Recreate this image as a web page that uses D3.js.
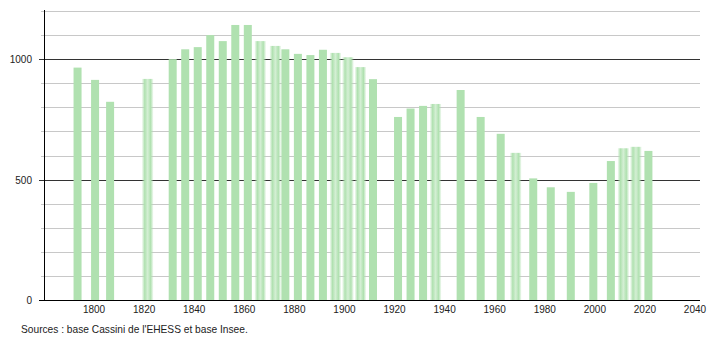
<!DOCTYPE html>
<html>
<head>
<meta charset="utf-8">
<script src="https://d3js.org/d3.v7.min.js"></script>
<style>
  body { margin: 0; background: #fff; }
  text { font-family: "Liberation Sans", Arial, sans-serif; font-size: 10.2px; fill: #222; }
</style>
</head>
<body>
<div id="chart"></div>
<script>
// census years and population
const years = [1793, 1800, 1806, 1821, 1831, 1836, 1841, 1846, 1851, 1856, 1861, 1866,
  1872, 1876, 1881, 1886, 1891, 1896, 1901, 1906, 1911, 1921, 1926, 1931, 1936, 1946,
  1954, 1962, 1968, 1975, 1982, 1990, 1999, 2006, 2011, 2016, 2021];
const population = [965, 914, 823, 918, 1000, 1041, 1050, 1100, 1075, 1142, 1142, 1075,
  1055, 1041, 1022, 1017, 1039, 1026, 1008, 967, 917, 760, 795, 806, 814, 872,
  760, 690, 611, 505, 468, 449, 486, 577, 630, 636, 619];
// bars that look blurred in the original rendering
const blurred = [1821, 1866, 1872, 1896, 1901, 1906, 1936, 1968, 2011, 2016];
const xTicks = [1800, 1820, 1840, 1860, 1880, 1900, 1920, 1940, 1960, 1980, 2000, 2020, 2040];
const yLabels = [0, 500, 1000];
const yGrid = d3.range(100, 1201, 100);

const width = 710, height = 340;
const svg = d3.select("#chart").append("svg")
  .attr("width", width)
  .attr("height", height);

const x = d3.scaleLinear().domain([1780, 2042]).range([44, 700]);
const y = d3.scaleLinear().domain([0, 1200]).range([300, 11]);

const defs = svg.append("defs");
const grad = defs.append("linearGradient").attr("id", "blur")
  .attr("x1", "0%").attr("x2", "100%");
grad.append("stop").attr("offset", "0%").attr("stop-color", "#b0e1b0").attr("stop-opacity", 0);
grad.append("stop").attr("offset", "25%").attr("stop-color", "#b0e1b0");
grad.append("stop").attr("offset", "50%").attr("stop-color", "#d4efd4");
grad.append("stop").attr("offset", "75%").attr("stop-color", "#b0e1b0");
grad.append("stop").attr("offset", "100%").attr("stop-color", "#b0e1b0").attr("stop-opacity", 0);

// grid lines
svg.selectAll("line.grid")
  .data(yGrid)
  .enter().append("line")
  .attr("class", "grid")
  .attr("x1", d => d % 500 === 0 ? 39 : 41)
  .attr("x2", 700)
  .attr("y1", d => Math.round(y(d)) + 0.5)
  .attr("y2", d => Math.round(y(d)) + 0.5)
  .attr("stroke", d => d % 500 === 0 ? "#333" : "#c8c8c8")
  .attr("stroke-width", 1);

// bars
const data = years.map((yr, i) => ({ year: yr, value: population[i], blur: blurred.includes(yr) }));
const barW = 8;
svg.selectAll("rect.bar")
  .data(data)
  .enter().append("rect")
  .attr("class", "bar")
  .attr("x", d => x(d.year) + 1 - (d.blur ? 12 : barW) / 2)
  .attr("y", d => y(d.value))
  .attr("width", d => d.blur ? 12 : barW)
  .attr("height", d => y(0) - y(d.value))
  .attr("fill", d => d.blur ? "url(#blur)" : "#b0e1b0");

// axes
svg.append("line")
  .attr("x1", 44.5).attr("x2", 44.5)
  .attr("y1", 10).attr("y2", 300)
  .attr("stroke", "#000");
svg.append("line")
  .attr("x1", 39).attr("x2", 700)
  .attr("y1", 300.5).attr("y2", 300.5)
  .attr("stroke", "#000");

svg.selectAll("text.ylab")
  .data(yLabels)
  .enter().append("text")
  .attr("class", "ylab")
  .attr("x", 32)
  .attr("y", d => y(d) + 4)
  .attr("text-anchor", "end")
  .style("font-size", "10px")
  .text(d => d);

svg.selectAll("text.xlab")
  .data(xTicks)
  .enter().append("text")
  .attr("class", "xlab")
  .attr("x", d => x(d))
  .attr("y", 313)
  .attr("text-anchor", "middle")
  .style("font-size", "10px")
  .text(d => d);

svg.append("text")
  .attr("x", 21)
  .attr("y", 333)
  .text("Sources : base Cassini de l'EHESS et base Insee.");
</script>
</body>
</html>
